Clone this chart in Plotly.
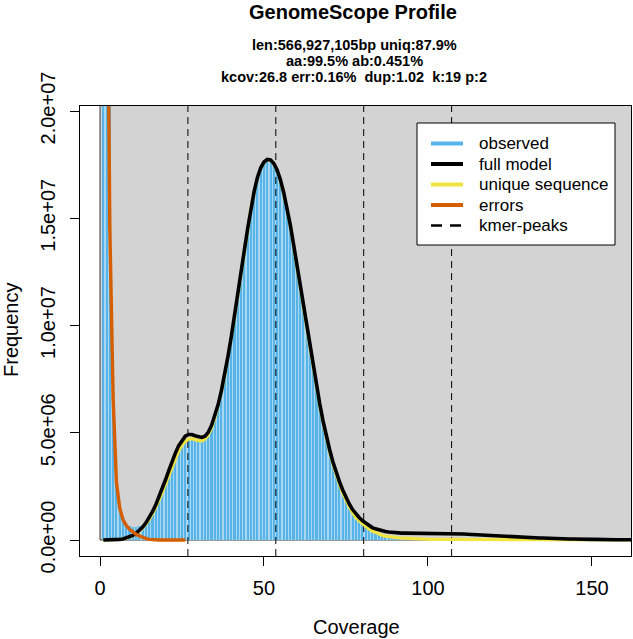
import plotly.graph_objects as go

# ---------------- data (values in millions of k-mers) ----------------
UNIT = 1e6

coverage = list(range(1, 163))

full_model = [
    0.00, 0.00, 0.00, 0.01, 0.02, 0.03, 0.05, 0.09, 0.14, 0.21,
    0.31, 0.44, 0.60, 0.80, 1.04, 1.32, 1.64, 2.00, 2.40, 2.82,
    3.25, 3.68, 4.06, 4.40, 4.66, 4.84, 4.92, 4.92, 4.86, 4.80,
    4.78, 4.84, 5.02, 5.34, 5.78, 6.30, 6.95, 7.70, 8.55, 9.45,
    10.40, 11.40, 12.45, 13.50, 14.50, 15.45, 16.25, 16.90, 17.35, 17.62,
    17.74, 17.72, 17.55, 17.25, 16.80, 16.20, 15.50, 14.70, 13.80, 12.85,
    11.90, 10.95, 10.00, 9.05, 8.10, 7.20, 6.35, 5.55, 4.85, 4.22,
    3.65, 3.15, 2.72, 2.33, 1.98, 1.68, 1.42, 1.22, 1.05, 0.90,
    0.78, 0.67, 0.58, 0.52, 0.47, 0.43, 0.40, 0.37, 0.35, 0.34,
    0.33, 0.32, 0.32, 0.32, 0.32, 0.31, 0.31, 0.31, 0.31, 0.31,
    0.31, 0.31, 0.30, 0.30, 0.30, 0.30, 0.30, 0.29, 0.29, 0.28,
    0.28, 0.27, 0.26, 0.25, 0.24, 0.23, 0.22, 0.21, 0.20, 0.19,
    0.18, 0.18, 0.17, 0.16, 0.16, 0.15, 0.14, 0.14, 0.13, 0.12,
    0.11, 0.11, 0.10, 0.09, 0.09, 0.08, 0.08, 0.07, 0.07, 0.06,
    0.06, 0.05, 0.05, 0.05, 0.04, 0.04, 0.04, 0.03, 0.03, 0.03,
    0.03, 0.02, 0.02, 0.02, 0.02, 0.02, 0.01, 0.01, 0.01, 0.01,
    0.01, 0.01,
]

unique_sequence = [
    0.00, 0.00, 0.00, 0.01, 0.02, 0.03, 0.05, 0.08, 0.13, 0.19,
    0.28, 0.40, 0.55, 0.73, 0.95, 1.21, 1.51, 1.85, 2.22, 2.62,
    3.03, 3.44, 3.82, 4.15, 4.42, 4.60, 4.70, 4.72, 4.68, 4.63,
    4.62, 4.70, 4.90, 5.22, 5.68, 6.22, 6.88, 7.64, 8.50, 9.40,
    10.36, 11.37, 12.42, 13.47, 14.47, 15.42, 16.22, 16.87, 17.32, 17.60,
    17.72, 17.70, 17.53, 17.23, 16.77, 16.17, 15.47, 14.66, 13.76, 12.81,
    11.86, 10.90, 9.95, 9.00, 8.05, 7.14, 6.28, 5.47, 4.76, 4.12,
    3.54, 3.03, 2.59, 2.19, 1.84, 1.54, 1.27, 1.05, 0.90, 0.76,
    0.63, 0.52, 0.42, 0.34, 0.27, 0.22, 0.18, 0.15, 0.14, 0.12,
    0.10, 0.09, 0.08, 0.07, 0.06, 0.05, 0.05, 0.04, 0.04, 0.04,
    0.03, 0.03, 0.03, 0.03, 0.02, 0.02, 0.02, 0.02, 0.02, 0.02,
    0.02, 0.02, 0.01, 0.01, 0.01, 0.01, 0.01, 0.01, 0.01, 0.01,
    0.01, 0.01, 0.01, 0.01, 0.01, 0.01, 0.01, 0.01, 0.01, 0.01,
    0.01, 0.01, 0.01, 0.01, 0.01, 0.01, 0.01, 0.01, 0.01, 0.01,
    0.01, 0.01, 0.01, 0.01, 0.01, 0.01, 0.01, 0.01, 0.01, 0.01,
    0.00, 0.00, 0.00, 0.00, 0.00, 0.00, 0.00, 0.00, 0.00, 0.00,
    0.00, 0.00,
]

obs_coverage = list(range(1, 156))
observed = [
    150.0, 60.0, 24.0, 7.20, 2.90, 1.60, 1.05, 0.78, 0.66, 0.60,
    0.60, 0.63, 0.72, 0.85, 1.02, 1.24, 1.50, 1.82, 2.18, 2.56,
    2.96, 3.36, 3.74, 4.08, 4.36, 4.56, 4.68, 4.70, 4.66, 4.62,
    4.62, 4.70, 4.92, 5.26, 5.72, 6.26, 6.92, 7.68, 8.52, 9.42,
    10.38, 11.38, 12.42, 13.46, 14.46, 15.40, 16.20, 16.86, 17.32, 17.60,
    17.70, 17.68, 17.50, 17.20, 16.74, 16.14, 15.44, 14.64, 13.74, 12.80,
    11.84, 10.88, 9.94, 8.98, 8.04, 7.12, 6.26, 5.46, 4.74, 4.08,
    3.50, 2.98, 2.52, 2.12, 1.77, 1.46, 1.20, 0.99, 0.83, 0.69,
    0.57, 0.47, 0.38, 0.31, 0.25, 0.20, 0.17, 0.14, 0.12, 0.10,
    0.09, 0.08, 0.07, 0.06, 0.06, 0.05, 0.05, 0.05, 0.04, 0.04,
    0.04, 0.04, 0.04, 0.03, 0.03, 0.03, 0.03, 0.03, 0.03, 0.03,
    0.02, 0.02, 0.02, 0.02, 0.02, 0.02, 0.02, 0.02, 0.02, 0.02,
    0.02, 0.02, 0.02, 0.02, 0.02, 0.02, 0.02, 0.02, 0.02, 0.02,
    0.01, 0.01, 0.01, 0.01, 0.01, 0.01, 0.01, 0.01, 0.01, 0.01,
    0.01, 0.01, 0.01, 0.01, 0.01, 0.01, 0.01, 0.01, 0.01, 0.01,
    0.01, 0.01, 0.01, 0.01, 0.01,
]

err_coverage = list(range(1, 27))
errors = [
    120.0, 32.0, 14.5, 6.60, 2.70, 1.50, 0.95, 0.68, 0.50, 0.37,
    0.27, 0.19, 0.12, 0.07, 0.03, 0.01, 0.00, 0.00, 0.00, 0.00,
    0.00, 0.00, 0.00, 0.00, 0.00, 0.00,
]

kmer_peaks = [26.8, 53.6, 80.4, 107.2]

x_ticks = [0, 50, 100, 150]
y_ticks = [0, 5e6, 1e7, 1.5e7, 2e7]
y_tick_labels = ["0.0e+00", "5.0e+06", "1.0e+07", "1.5e+07", "2.0e+07"]

title_text = "GenomeScope Profile"
subtitle_lines = [
    "len:566,927,105bp uniq:87.9%",
    "aa:99.5% ab:0.451%",
    "kcov:26.8 err:0.16%\u00a0\u00a0dup:1.02\u00a0\u00a0k:19 p:2",
]
legend_labels = ["observed", "full model", "unique sequence", "errors", "kmer-peaks"]

# ---------------- styles ----------------
FONT = "Liberation Sans, Arial, Helvetica, sans-serif"
C_HIST = "#56B4E9"
C_HIST_LIGHT = "#A9D6F1"
C_BG = "#D3D3D3"
C_UNIQUE = "#F0E442"
C_ERR = "#D55E00"

W, H = 633, 639
L, R, T, B = 80, 2, 106, 83
PW, PH = W - L - R, H - T - B

X_RANGE = [-6.1, 161.9]
Y_RANGE = [-0.746e6, 2.0233e7]


def sc(vals):
    return [v * UNIT for v in vals]


def pxx(px):
    return (px - L) / PW


def pxy(py):
    return (T + PH - py) / PH


fig = go.Figure()

# observed histogram (light underlay + blue bars give the striped look)
fig.add_trace(go.Bar(x=obs_coverage, y=sc(observed), width=1.0,
                     marker=dict(color=C_HIST_LIGHT, line=dict(width=0)),
                     showlegend=False, hoverinfo="skip"))
fig.add_trace(go.Bar(x=obs_coverage, y=sc(observed), width=0.64,
                     marker=dict(color=C_HIST, line=dict(width=0)),
                     name="observed", showlegend=False))

# kmer peaks (vertical dashed lines over the full plot height)
kx, ky = [], []
for p in kmer_peaks:
    kx += [p, p, None]
    ky += [Y_RANGE[0], Y_RANGE[1], None]
fig.add_trace(go.Scatter(x=kx, y=ky, mode="lines", name="kmer-peaks",
                         line=dict(color="black", width=1, dash="7px,5px"),
                         showlegend=False, hoverinfo="skip"))

fig.add_trace(go.Scatter(x=coverage, y=sc(unique_sequence), mode="lines",
                         name="unique sequence", line=dict(color=C_UNIQUE, width=3.2),
                         showlegend=False))
fig.add_trace(go.Scatter(x=coverage, y=sc(full_model), mode="lines",
                         name="full model", line=dict(color="black", width=3.6),
                         showlegend=False))
fig.add_trace(go.Scatter(x=err_coverage, y=sc(errors), mode="lines",
                         name="errors", line=dict(color=C_ERR, width=3.4),
                         showlegend=False))

shapes = []
# grey background rectangle starting at the data origin
shapes.append(dict(type="rect", xref="x", yref="y", layer="below",
                   x0=0, y0=0, x1=max(coverage) * 1.1, y1=max(full_model) * UNIT * 1.25,
                   fillcolor=C_BG, line=dict(color="#3c3c3c", width=1)))

# legend box
shapes.append(dict(type="rect", xref="paper", yref="paper",
                   x0=pxx(417), x1=pxx(615), y0=pxy(245), y1=pxy(123),
                   fillcolor="white", line=dict(color="black", width=1), layer="above"))
leg_colors = [C_HIST, "black", C_UNIQUE, C_ERR, "black"]
leg_dash = ["solid", "solid", "solid", "solid", "11px,8px"]
leg_width = [4, 4, 4, 4, 2.5]
leg_y = [143.5, 164.0, 184.5, 205.0, 225.5]

annotations = []
for lab, col, dsh, lw, yy in zip(legend_labels, leg_colors, leg_dash, leg_width, leg_y):
    shapes.append(dict(type="line", xref="paper", yref="paper",
                       x0=pxx(431), x1=pxx(463), y0=pxy(yy), y1=pxy(yy),
                       line=dict(color=col, width=lw, dash=dsh), layer="above"))
    annotations.append(dict(text=lab, xref="paper", yref="paper", x=pxx(477), y=pxy(yy),
                            xanchor="left", yanchor="middle", showarrow=False,
                            font=dict(family=FONT, size=17, color="black")))

# title and subtitle
annotations.append(dict(text="<b>" + title_text + "</b>", xref="paper", yref="paper",
                        x=pxx(353), y=pxy(12), xanchor="center", yanchor="middle",
                        showarrow=False, font=dict(family=FONT, size=20, color="black")))
for line, yy in zip(subtitle_lines, [45, 61, 77]):
    annotations.append(dict(text="<b>" + line + "</b>", xref="paper", yref="paper",
                            x=pxx(354), y=pxy(yy), xanchor="center", yanchor="middle",
                            showarrow=False, font=dict(family=FONT, size=14.5, color="black")))

# axis titles
annotations.append(dict(text="Coverage", xref="paper", yref="paper", x=pxx(356), y=pxy(627),
                        xanchor="center", yanchor="middle", showarrow=False,
                        font=dict(family=FONT, size=20, color="black")))
annotations.append(dict(text="Frequency", xref="paper", yref="paper", x=pxx(11), y=pxy(330),
                        xanchor="center", yanchor="middle", showarrow=False, textangle=-90,
                        font=dict(family=FONT, size=20, color="black")))

fig.update_layout(
    width=W, height=H,
    margin=dict(l=L, r=R, t=T, b=B, pad=0),
    paper_bgcolor="white", plot_bgcolor="white",
    barmode="overlay", bargap=0,
    showlegend=False,
    shapes=shapes, annotations=annotations,
    font=dict(family=FONT, color="black"),
)
fig.update_xaxes(range=X_RANGE, tickvals=x_ticks, ticks="outside", ticklen=9,
                 tickcolor="black", tickfont=dict(size=20, family=FONT, color="black"),
                 showline=True, mirror=True, linecolor="black", linewidth=1,
                 showgrid=False, zeroline=False, ticklabelstandoff=5)
fig.update_yaxes(range=Y_RANGE, tickvals=y_ticks, ticktext=y_tick_labels, ticks="outside",
                 ticklen=9, tickcolor="black", tickangle=-90,
                 tickfont=dict(size=20, family=FONT, color="black"),
                 showline=True, mirror=True, linecolor="black", linewidth=1,
                 showgrid=False, zeroline=False, ticklabelstandoff=7)

fig.write_html("out.html")
